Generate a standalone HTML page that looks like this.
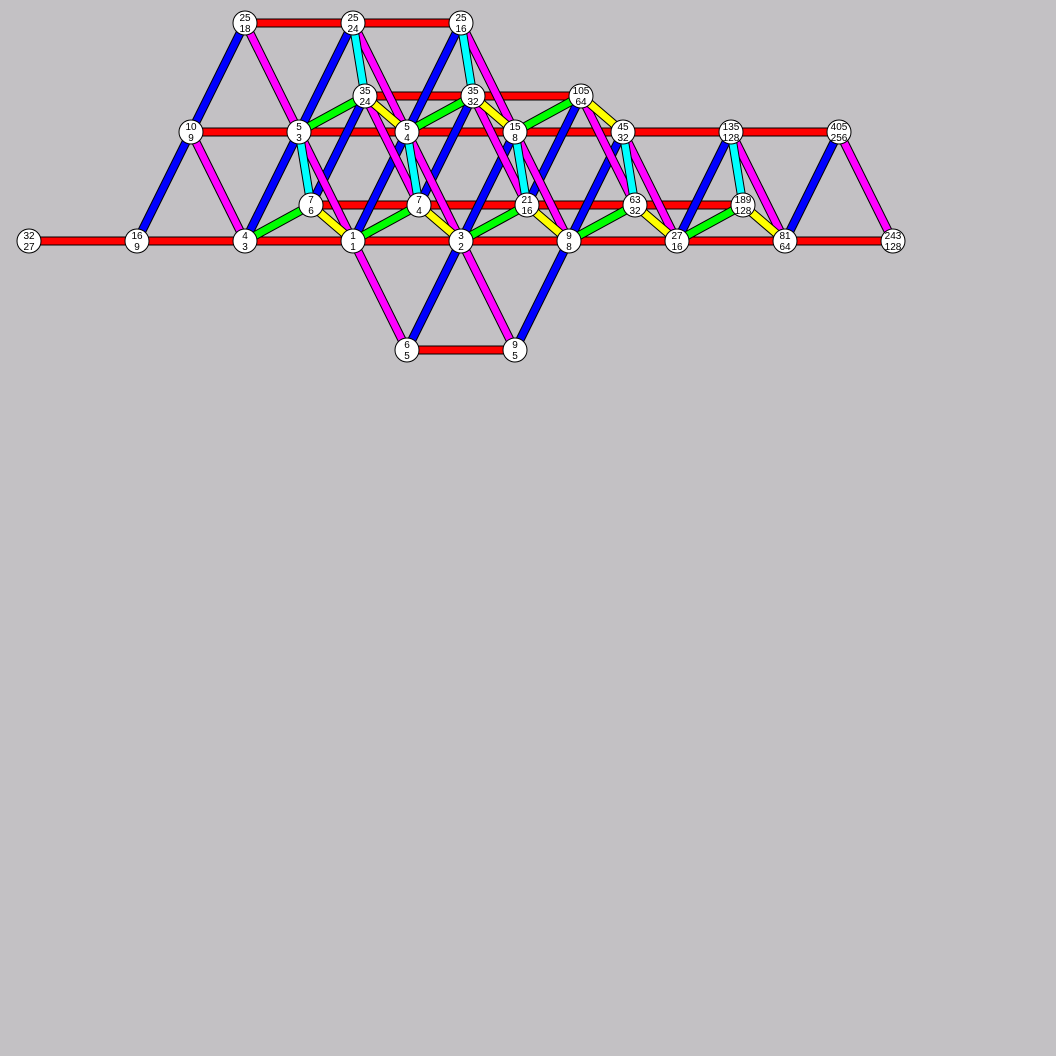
<!DOCTYPE html>
<html><head><meta charset="utf-8"><style>
html,body{margin:0;padding:0;background:#c3c1c4;}
svg{display:block}
text{font-family:"Liberation Sans",sans-serif;font-size:10px;fill:#000}
</style></head><body>
<svg id="chart" width="1056" height="1056" viewBox="0 0 1056 1056">
<rect width="1056" height="1056" fill="#c3c1c4"/>
<g id="edges"></g>
<g id="nodes"></g>
</svg>
<script>
// exponents of 3, 5, 7 for each node and its ratio label
const exp3 = [-3,-2,-1,0,1,2,3,4,5, -2,-1,0,1,2,3,4, -2,-1,0, 1,2, -1,0,1,2,3, -1,0,1];
const exp5 = [0,0,0,0,0,0,0,0,0, 1,1,1,1,1,1,1, 2,2,2, -1,-1, 0,0,0,0,0, 1,1,1];
const exp7 = [0,0,0,0,0,0,0,0,0, 0,0,0,0,0,0,0, 0,0,0, 0,0, 1,1,1,1,1, 1,1,1];
const numerators = ['32','16','4','1','3','9','27','81','243','10','5','5','15','45','135','405','25','25','25','6','9','7','7','21','63','189','35','35','105'];
const denominators = ['27','9','3','1','2','8','16','64','128','9','3','4','8','32','128','256','18','24','16','5','5','6','4','16','32','128','24','32','64'];
// edge types: step in (3,5,7) exponent space and colour
const stepNames = ['red','blue','magenta','green','yellow','cyan'];
const stepD3 = [1,0,-1,0,-1,0];
const stepD5 = [0,1,1,0,0,-1];
const stepD7 = [0,0,0,1,1,1];
const stepColors = ['#ff0000','#0000ff','#ff00ff','#00ff00','#ffff00','#00ffff'];

const NS='http://www.w3.org/2000/svg';
function px(i){return 353 + 108*exp3[i] + 54*exp5[i] + 66*exp7[i];}
function py(i){return 241 - 109*exp5[i] - 36*exp7[i];}
function find(a,b,c){for(let i=0;i<exp3.length;i++){if(exp3[i]===a&&exp5[i]===b&&exp7[i]===c)return i;}return -1;}

const eg=document.getElementById('edges');
for(let s=0;s<stepNames.length;s++){
  for(let i=0;i<exp3.length;i++){
    const j=find(exp3[i]+stepD3[s],exp5[i]+stepD5[s],exp7[i]+stepD7[s]);
    if(j<0)continue;
    const g=document.createElementNS(NS,'g');
    
    
    const o=document.createElementNS(NS,'line');
    o.setAttribute('x1',px(i));o.setAttribute('y1',py(i));o.setAttribute('x2',px(j));o.setAttribute('y2',py(j));
    o.setAttribute('stroke','#000');o.setAttribute('stroke-width','9');
    const l=document.createElementNS(NS,'line');
    l.setAttribute('x1',px(i));l.setAttribute('y1',py(i));l.setAttribute('x2',px(j));l.setAttribute('y2',py(j));
    l.setAttribute('stroke',stepColors[s]);l.setAttribute('stroke-width','7');
    g.appendChild(o);g.appendChild(l);eg.appendChild(g);
  }
}
const ng=document.getElementById('nodes');
for(let i=0;i<exp3.length;i++){
  const g=document.createElementNS(NS,'g');
  
  
  const c=document.createElementNS(NS,'circle');
  c.setAttribute('cx',px(i));c.setAttribute('cy',py(i));c.setAttribute('r','12');
  c.setAttribute('fill','#fff');c.setAttribute('stroke','#000');c.setAttribute('stroke-width','1');
  g.appendChild(c);
  const t1=document.createElementNS(NS,'text');
  t1.setAttribute('x',px(i));t1.setAttribute('y',py(i)-2);t1.setAttribute('text-anchor','middle');
  t1.textContent=numerators[i];
  const t2=document.createElementNS(NS,'text');
  t2.setAttribute('x',px(i));t2.setAttribute('y',py(i)+9);t2.setAttribute('text-anchor','middle');
  t2.textContent=denominators[i];
  g.appendChild(t1);g.appendChild(t2);ng.appendChild(g);
}
</script>
</body></html>
